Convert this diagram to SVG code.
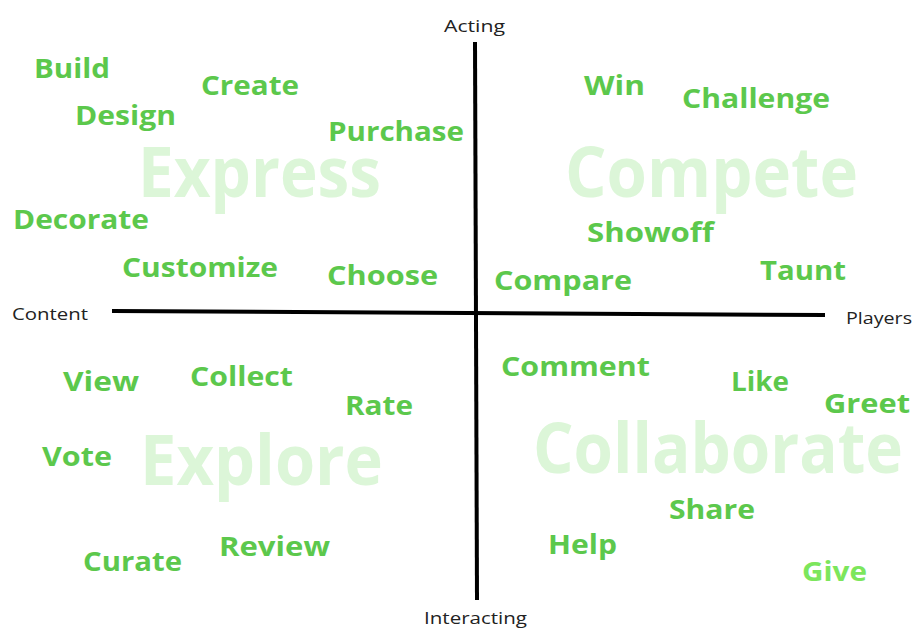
<svg xmlns="http://www.w3.org/2000/svg" width="912" height="628" viewBox="0 0 912 628">
<style>
.w{font-family:"Open Sans","Noto Sans",sans-serif;font-weight:bold;font-size:26.5px;fill:#5cc84c}
.g{fill:#7ce65c}
.big{font-family:"Open Sans","Noto Sans",sans-serif;font-weight:bold;font-size:70px;fill:#dcf6d8}
.ax{font-family:"Open Sans","Noto Sans",sans-serif;font-size:16px;fill:#222}
.axis{stroke:#000;stroke-width:4;stroke-linecap:butt;fill:none}
</style>
<rect width="912" height="628" fill="#fff"/>
<g id="quadrants">
<text class="big" x="138" y="197" textLength="243" lengthAdjust="spacingAndGlyphs">Express</text>
<text class="big" x="565" y="197" textLength="293" lengthAdjust="spacingAndGlyphs">Compete</text>
<text class="big" x="140" y="485" textLength="243" lengthAdjust="spacingAndGlyphs">Explore</text>
<text class="big" x="533" y="473" textLength="370" lengthAdjust="spacingAndGlyphs">Collaborate</text>
</g>
<g id="connectors">
<line class="axis" x1="112" y1="311" x2="825" y2="315"/>
<line class="axis" x1="475" y1="42" x2="477" y2="600"/>
</g>
<g id="axis-labels">
<text class="ax" x="444" y="32" textLength="61" lengthAdjust="spacingAndGlyphs">Acting</text>
<text class="ax" x="12" y="320" textLength="76" lengthAdjust="spacingAndGlyphs">Content</text>
<text class="ax" x="846" y="324" textLength="66" lengthAdjust="spacingAndGlyphs">Players</text>
<text class="ax" x="424" y="624" textLength="103" lengthAdjust="spacingAndGlyphs">Interacting</text>
</g>
<g id="express-words">
<text id="build" class="w" x="34" y="78" textLength="76" lengthAdjust="spacingAndGlyphs">Build</text>
<text id="create" class="w" x="201" y="95" textLength="98" lengthAdjust="spacingAndGlyphs">Create</text>
<text id="design" class="w" x="75" y="125" textLength="101" lengthAdjust="spacingAndGlyphs">Design</text>
<text id="purchase" class="w" x="328" y="141" textLength="136" lengthAdjust="spacingAndGlyphs">Purchase</text>
<text id="decorate" class="w" x="13" y="229" textLength="136" lengthAdjust="spacingAndGlyphs">Decorate</text>
<text id="customize" class="w" x="122" y="277" textLength="156" lengthAdjust="spacingAndGlyphs">Customize</text>
<text id="choose" class="w" x="327" y="285" textLength="111" lengthAdjust="spacingAndGlyphs">Choose</text>
</g>
<g id="compete-words">
<text id="win" class="w" x="584" y="95" textLength="61" lengthAdjust="spacingAndGlyphs">Win</text>
<text id="challenge" class="w" x="682" y="108" textLength="148" lengthAdjust="spacingAndGlyphs">Challenge</text>
<text id="showoff" class="w" x="587" y="242" textLength="127" lengthAdjust="spacingAndGlyphs">Showoff</text>
<text id="taunt" class="w" x="760" y="280" textLength="86" lengthAdjust="spacingAndGlyphs">Taunt</text>
<text id="compare" class="w" x="494" y="290" textLength="138" lengthAdjust="spacingAndGlyphs">Compare</text>
</g>
<g id="explore-words">
<text id="view" class="w" x="63" y="391" textLength="76" lengthAdjust="spacingAndGlyphs">View</text>
<text id="collect" class="w" x="190" y="386" textLength="103" lengthAdjust="spacingAndGlyphs">Collect</text>
<text id="rate" class="w" x="345" y="415" textLength="68" lengthAdjust="spacingAndGlyphs">Rate</text>
<text id="vote" class="w" x="42" y="466" textLength="70" lengthAdjust="spacingAndGlyphs">Vote</text>
<text id="curate" class="w" x="83" y="571" textLength="99" lengthAdjust="spacingAndGlyphs">Curate</text>
<text id="review" class="w" x="219" y="556" textLength="111" lengthAdjust="spacingAndGlyphs">Review</text>
</g>
<g id="collaborate-words">
<text id="comment" class="w" x="501" y="376" textLength="149" lengthAdjust="spacingAndGlyphs">Comment</text>
<text id="like" class="w" x="731" y="391" textLength="58" lengthAdjust="spacingAndGlyphs">Like</text>
<text id="greet" class="w" x="824" y="413" textLength="86" lengthAdjust="spacingAndGlyphs">Greet</text>
<text id="share" class="w" x="669" y="519" textLength="86" lengthAdjust="spacingAndGlyphs">Share</text>
<text id="help" class="w" x="548" y="554" textLength="69" lengthAdjust="spacingAndGlyphs">Help</text>
<text id="give" class="w g" x="802" y="581" textLength="65" lengthAdjust="spacingAndGlyphs">Give</text>
</g>
</svg>
